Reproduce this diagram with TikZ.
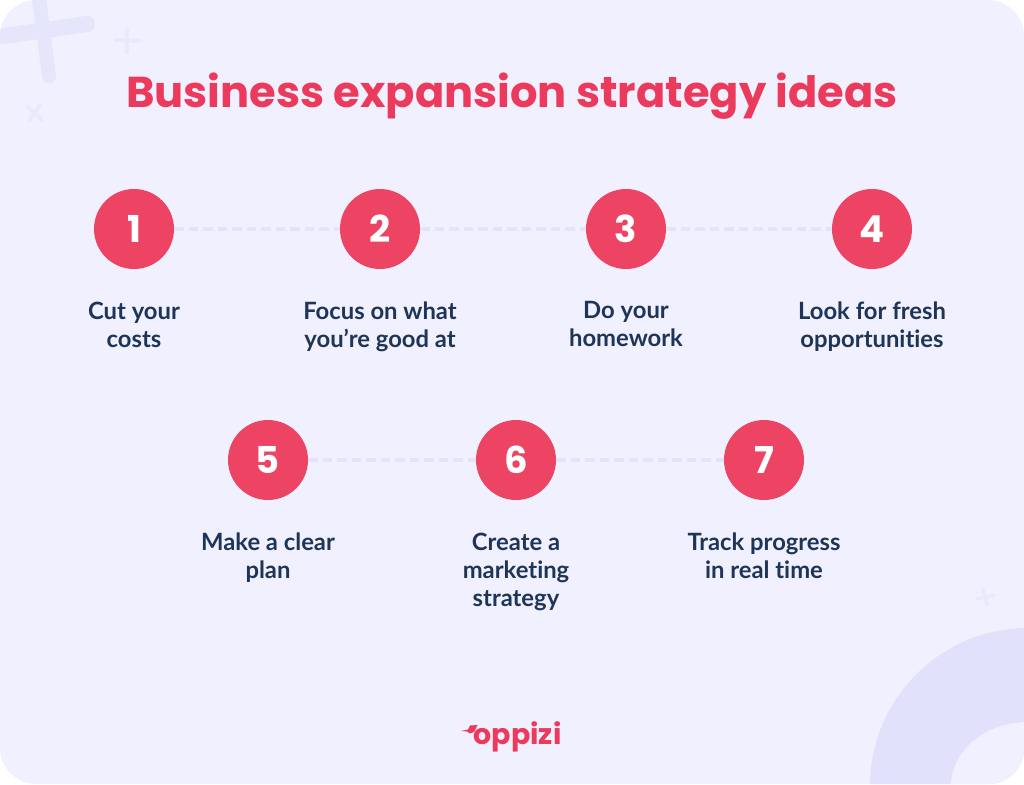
\documentclass[tikz,border=0pt]{standalone}
\usepackage{fontspec}
\setmainfont[RawFeature={-liga}]{Lato}
\newfontfamily\titlefont{Poppins}
\definecolor{bgc}{HTML}{F0F0FF}
\definecolor{decoc}{HTML}{E1E1FC}
\definecolor{crossc}{HTML}{E5E5FC}
\definecolor{decol}{HTML}{E9E9FC}
\definecolor{dashc}{HTML}{E3E4FA}
\definecolor{redc}{HTML}{EE4463}
\definecolor{titlec}{HTML}{EC3A5D}
\definecolor{navyc}{HTML}{1E3557}
\tikzset{
  x=1pt,y=-1pt,
  numdot/.style={circle,fill=redc,minimum size=80pt,inner sep=0pt,text=white,font=\titlefont\fontsize{37}{37}\selectfont\bfseries},
  lab/.style={align=center,text=navyc,font=\fontsize{23.8}{28}\selectfont\bfseries,anchor=north,inner sep=0pt},
  link/.style={draw=dashc,line width=3.4pt,dash pattern=on 9.5pt off 5pt},
  plus/.style={line cap=round,line width=#1,draw=decol},
}
\begin{document}
\begin{tikzpicture}
\useasboundingbox (0,0) rectangle (1024,784);
\fill[white] (0,0) rectangle (1024,784);
\begin{scope}
\clip[rounded corners=36pt] (0,0) rectangle (1024,784);
\fill[bgc] (0,0) rectangle (1024,784);
\fill[decoc] (1028,786) ellipse [x radius=158, y radius=158];
\fill[bgc] (1028,786) ellipse [x radius=77, y radius=64];
\draw[plus=16pt,draw=crossc] (-10,38) -- (87,24);
\draw[plus=14pt,draw=crossc] (38,-10) -- (49,76);
\end{scope}
\draw[plus=4pt] (116,40) -- (139,41);
\draw[plus=4pt] (127,29) -- (127,52);
\draw[plus=3.5pt] (27,106) -- (42,120);
\draw[plus=3.5pt] (40,105) -- (29,121);
\draw[plus=3pt] (977,599) -- (994,595);
\draw[plus=3pt] (983,589) -- (987,605);
\node[font=\titlefont\fontsize{43.2}{50}\selectfont\bfseries,text=titlec,inner sep=0pt] (title) at (512,96) {Business expansion strategy ideas};
\node[numdot] (n1) at (134,229) {1};
\node[numdot] (n2) at (380,229) {2};
\node[numdot] (n3) at (626,229) {3};
\node[numdot] (n4) at (872,229) {4};
\node[numdot] (n5) at (268,460) {5};
\node[numdot] (n6) at (516,460) {6};
\node[numdot] (n7) at (764,460) {7};
\draw[link] (n1) -- (n2);
\draw[link] (n2) -- (n3);
\draw[link] (n3) -- (n4);
\draw[link] (n5) -- (n6);
\draw[link] (n6) -- (n7);
\node[lab] (l1) at (134,301.5) {Cut your\\costs};
\node[lab] (l2) at (380,301.5) {Focus on what\\you’re good at};
\node[lab] (l3) at (626,301.5) {Do your\\homework};
\node[lab] (l4) at (872,301.5) {Look for fresh\\opportunities};
\node[lab] (l5) at (268,532.5) {Make a clear\\plan};
\node[lab] (l6) at (516,532.5) {Create a\\marketing\\strategy};
\node[lab] (l7) at (764,532.5) {Track progress\\in real time};
\node[font=\titlefont\fontsize{28.5}{30}\selectfont\bfseries,text=titlec,inner sep=0pt] (logo) at (517.5,737) {oppizi};
\fill[titlec] (461,731) -- (468,729.5) -- (470,725.5) -- (477.5,725) -- (474,732) -- (470,733.5) -- (467,731.5) -- cycle;
\end{tikzpicture}
\end{document}
